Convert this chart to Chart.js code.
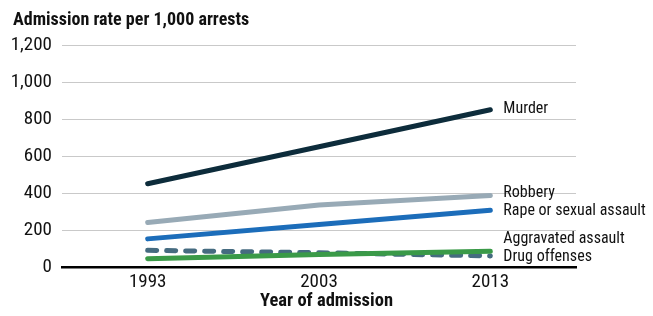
<!DOCTYPE html>
<html>
<head>
<meta charset="utf-8">
<script src="https://cdn.jsdelivr.net/npm/chart.js@4"></script>
<style>
html,body{margin:0;padding:0;background:#fff;}
#wrap{width:653px;height:316px;position:relative;}
</style>
</head>
<body>
<div id="wrap"><canvas id="c" width="653" height="316"></canvas></div>
<script>
const years = ["1993", "2003", "2013"];
const seriesNames = ["Murder", "Robbery", "Rape or sexual assault", "Aggravated assault", "Drug offenses"];
const murder = [450, 650, 850];
const robbery = [240, 335, 387];
const rape = [152, 230, 307];
const aggravatedAssault = [45, 68, 85];
const drugOffenses = [90, 77, 60];
const yTicks = [0, 200, 400, 600, 800, 1000, 1200];
const yTitle = "Admission rate per 1,000 arrests";
const xTitle = "Year of admission";

const FONT = "'Roboto Condensed', 'DejaVu Sans Condensed', sans-serif";
const colors = ["#0d2c3b", "#98aab6", "#1c6dba", "#3a9a48", "#456b80"];
const values = [murder, robbery, rape, aggravatedAssault, drugOffenses];

const datasets = values.map((v, i) => ({
  label: seriesNames[i],
  data: v,
  borderColor: colors[i],
  backgroundColor: colors[i],
  borderWidth: 5,
  borderCapStyle: 'round',
  borderDash: i === 4 ? [9, 10] : [],
  pointRadius: 0,
  tension: 0,
  fill: false,
  order: i === 3 ? 0 : (i === 4 ? 1 : i + 1)
}));

const titlePlugin = {
  id: 'titles',
  afterDraw(chart) {
    const ctx = chart.ctx;
    ctx.save();
    ctx.fillStyle = '#111';
    ctx.font = "bold 18px " + FONT;
    ctx.textAlign = 'left';
    ctx.textBaseline = 'middle';
    ctx.fillText(yTitle, 13, 20);
    ctx.font = "bold 18.5px " + FONT;
    ctx.textAlign = 'center';
    ctx.fillText(xTitle, chart.width / 2, 301);
    ctx.restore();
  }
};

const endLabels = {
  id: 'endLabels',
  afterDatasetsDraw(chart) {
    const ctx = chart.ctx;
    const area = chart.chartArea;
    const items = chart.data.datasets.map((ds, i) => {
      const meta = chart.getDatasetMeta(i);
      const pt = meta.data[meta.data.length - 1];
      return { text: ds.label, x: pt.x, y: pt.y - 1 };
    }).sort((a, b) => a.y - b.y);
    const gap = 18.5;
    for (let it = 0; it < 60; it++) {
      for (let k = 0; k < items.length - 1; k++) {
        const a = items[k], b = items[k + 1];
        const d = b.y - a.y;
        if (d < gap) { const s = (gap - d) / 2; a.y -= s; b.y += s; }
      }
      const last = items[items.length - 1];
      const maxY = area.bottom - 10;
      if (last.y > maxY) last.y = maxY;
    }
    ctx.save();
    ctx.fillStyle = '#111';
    ctx.font = "16px " + FONT;
    ctx.textAlign = 'left';
    ctx.textBaseline = 'middle';
    items.forEach(it => ctx.fillText(it.text, it.x + 13, it.y));
    ctx.restore();
  }
};

new Chart(document.getElementById('c'), {
  type: 'line',
  data: { labels: years, datasets },
  options: {
    responsive: false,
    animation: false,
    layout: { padding: { top: 45, right: 77, left: 0, bottom: 0 } },
    plugins: { legend: { display: false }, tooltip: { enabled: false } },
    scales: {
      x: {
        offset: true,
        grid: { display: false, drawTicks: false },
        border: { display: true, color: '#000', width: 2.5 },
        ticks: { color: '#111', font: { family: FONT, size: 19 }, padding: 4 },
        afterFit(s) { s.height = 49; }
      },
      y: {
        min: 0, max: 1200,
        afterBuildTicks(s) { s.ticks = yTicks.map(v => ({ value: v })); },
        grid: { color: (c) => c.tick && c.tick.value === 0 ? 'rgba(0,0,0,0)' : '#c9c9c9', lineWidth: 1, drawTicks: false },
        border: { display: false },
        ticks: { color: '#111', font: { family: FONT, size: 19 }, padding: 10,
          callback: (v) => v.toLocaleString('en-US') },
        afterFit(s) { s.width = 62; }
      }
    }
  },
  plugins: [titlePlugin, endLabels]
});
</script>
</body>
</html>
